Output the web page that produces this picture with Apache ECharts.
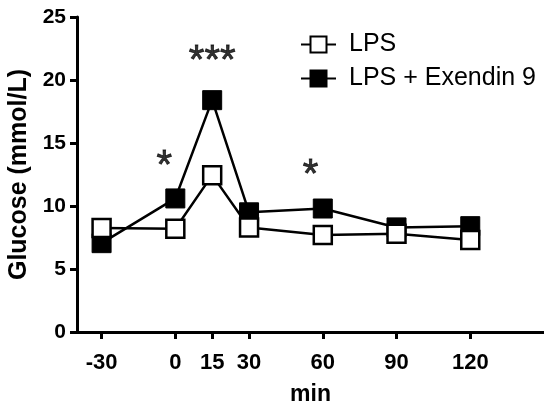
<!DOCTYPE html>
<html>
<head>
<meta charset="utf-8">
<script src="https://cdn.jsdelivr.net/npm/echarts@6/dist/echarts.min.js"></script>
<style>
    html, body { margin: 0; padding: 0; background: #fff; }
    #main { width: 544px; height: 405px; }
</style>
</head>
<body>
<div id="main"></div>
<script>
var minutes = [-30, 0, 15, 30, 60, 90, 120];
var lps = [8.25, 8.2, 12.45, 8.3, 7.7, 7.8, 7.3];
var lpsExendin = [7.05, 10.6, 18.4, 9.5, 9.8, 8.3, 8.4];
var xTicks = [-30, 0, 15, 30, 60, 90, 120];
// significance marks: [min, glucose, text]
var stars = [[-4.5, 13.1, '*'], [15, 21.4, '***'], [55, 12.4, '*']];

var font = 'Liberation Sans, Arial, sans-serif';

var pairs = function (xs, ys) {
    return xs.map(function (x, i) { return [x, ys[i]]; });
};

var option = {
    backgroundColor: '#fff',
    animation: false,
    grid: { left: 77, right: 0, top: 17, bottom: 73, outerBoundsMode: 'none', containLabel: false },
    legend: {
        orient: 'vertical',
        left: 295,
        top: 27,
        itemGap: 9,
        itemWidth: 35,
        itemHeight: 20,
        textStyle: { fontFamily: font, fontSize: 25, color: '#000', padding: [0, 0, 0, 8] },
        data: ['LPS', 'LPS + Exendin 9']
    },
    xAxis: {
        type: 'value',
        min: -40,
        max: 150,
        name: 'min',
        nameLocation: 'middle',
        nameGap: 51,
        nameTextStyle: { fontFamily: font, fontSize: 23, fontWeight: 'bold', color: '#000' },
        splitLine: { show: false },
        axisLine: { onZero: false, lineStyle: { color: '#000', width: 3 } },
        axisTick: {
            customValues: xTicks,
            length: 7,
            lineStyle: { color: '#000', width: 3 }
        },
        axisLabel: {
            customValues: xTicks,
            margin: 20,
            fontFamily: font, fontSize: 22, fontWeight: 'bold', color: '#000'
        }
    },
    yAxis: {
        type: 'value',
        min: 0,
        max: 25,
        interval: 5,
        name: 'Glucose (mmol/L)',
        nameLocation: 'middle',
        nameGap: 44,
        nameTextStyle: { fontFamily: font, fontSize: 25, fontWeight: 'bold', color: '#000' },
        splitLine: { show: false },
        axisLine: { show: true, onZero: false, lineStyle: { color: '#000', width: 3 } },
        axisTick: { show: true, length: 7, lineStyle: { color: '#000', width: 3 } },
        axisLabel: { margin: 11, fontFamily: font, fontSize: 21, fontWeight: 'bold', color: '#000' }
    },
    series: [
        {
            name: 'LPS',
            type: 'line',
            data: pairs(minutes, lps),
            symbol: 'rect',
            symbolSize: 18,
            z: 3,
            lineStyle: { color: '#000', width: 2.5 },
            itemStyle: { color: '#fff', borderColor: '#000', borderWidth: 2.5 }
        },
        {
            name: 'LPS + Exendin 9',
            type: 'line',
            data: pairs(minutes, lpsExendin),
            symbol: 'rect',
            symbolSize: 19,
            z: 2,
            lineStyle: { color: '#000', width: 2.5 },
            itemStyle: { color: '#000', borderColor: '#000', borderWidth: 1 }
        },
        {
            name: 'stars',
            type: 'scatter',
            data: stars.map(function (s) { return { value: [s[0], s[1]], name: s[2] }; }),
            symbolSize: 0,
            silent: true,
            label: {
                show: true,
                position: 'inside',
                formatter: function (p) { return p.name; },
                fontFamily: font,
                fontSize: 40,
                color: '#000',
                textBorderColor: '#000',
                textBorderWidth: 0.8
            }
        }
    ]
};

var myChart = echarts.init(document.getElementById('main'));
myChart.setOption(option);
</script>
</body>
</html>
